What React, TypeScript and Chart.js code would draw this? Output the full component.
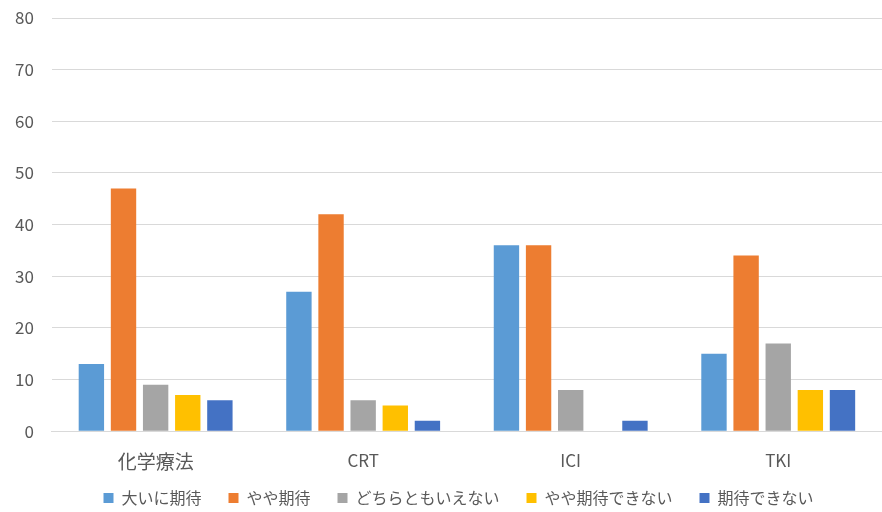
import React, { useEffect, useRef } from "react";
import { Chart, registerables } from "chart.js";

Chart.register(...registerables);

// Treatment categories on the x axis
const categories = ["化学療法", "CRT", "ICI", "TKI"];

// Response series (percent)
const seriesNames = ["大いに期待", "やや期待", "どちらともいえない", "やや期待できない", "期待できない"];
const greatlyExpect = [13, 27, 36, 15];
const somewhatExpect = [47, 42, 36, 34];
const neutral = [9, 6, 8, 17];
const somewhatNotExpect = [7, 5, null, 8];
const notExpect = [6, 2, 2, 8];

const seriesColors = ["#5B9BD5", "#ED7D31", "#A5A5A5", "#FFC000", "#4472C4"];

const FONT = "'Noto Sans CJK JP', 'Noto Sans', sans-serif";

// The legend keeps wide horizontal spacing between items, while its box is
// made shorter so the plot area reaches further down.
const LEGEND_TRIM = 25;
const LEGEND_RAISE = 21;
const LEGEND_NUDGE_X = 38;

const compactLegend = {
  id: "compactLegend",
  beforeInit(chart: any) {
    const legend = chart.legend;
    if (!legend) return;
    const fit = legend.fit.bind(legend);
    legend.fit = function () {
      fit();
      this.height -= LEGEND_TRIM;
    };
    const draw = legend.draw.bind(legend);
    legend.draw = function () {
      const top = this.top;
      const left = this.left;
      this.top = top - LEGEND_RAISE;
      this.left = left + LEGEND_NUDGE_X;
      draw();
      this.top = top;
      this.left = left;
    };
  },
};

export default function App() {
  const canvasRef = useRef<HTMLCanvasElement | null>(null);

  useEffect(() => {
    document.body.style.margin = "0";
    const canvas = canvasRef.current;
    if (!canvas) return;
    const values = [greatlyExpect, somewhatExpect, neutral, somewhatNotExpect, notExpect];
    const chart = new Chart(canvas, {
      type: "bar",
      data: {
        labels: categories,
        datasets: values.map((data, i) => ({
          label: seriesNames[i],
          data,
          backgroundColor: seriesColors[i],
          borderWidth: 0,
          categoryPercentage: 0.774,
          barPercentage: 0.79,
        })),
      },
      options: {
        animation: false,
        responsive: false,
        maintainAspectRatio: false,
        layout: { padding: { left: -3, right: 0, top: 0, bottom: 0 } },
        plugins: {
          tooltip: { enabled: false },
          legend: {
            position: "bottom",
            labels: {
              boxWidth: 10,
              boxHeight: 10,
              padding: 27,
              color: "#595959",
              font: { family: FONT, size: 16 },
            },
          },
        },
        scales: {
          x: {
            grid: { display: false },
            border: { color: "#D9D9D9", width: 1 },
            ticks: {
              color: "#595959",
              padding: 11,
              font: (ctx: any) => ({ family: FONT, size: ctx.index === 0 ? 19 : 17 }),
            },
          },
          y: {
            min: 0,
            max: 80,
            border: { display: false },
            grid: { color: "#D9D9D9", drawTicks: false },
            ticks: {
              stepSize: 10,
              color: "#595959",
              padding: 18,
              font: { family: FONT, size: 17 },
            },
            afterFit: (scale: any) => {
              scale.paddingTop = 18;
              scale.paddingBottom = 0;
            },
          },
        },
      },
      plugins: [compactLegend],
    });
    return () => chart.destroy();
  }, []);

  return <canvas ref={canvasRef} width={882} height={512} style={{ display: "block" }} />;
}
